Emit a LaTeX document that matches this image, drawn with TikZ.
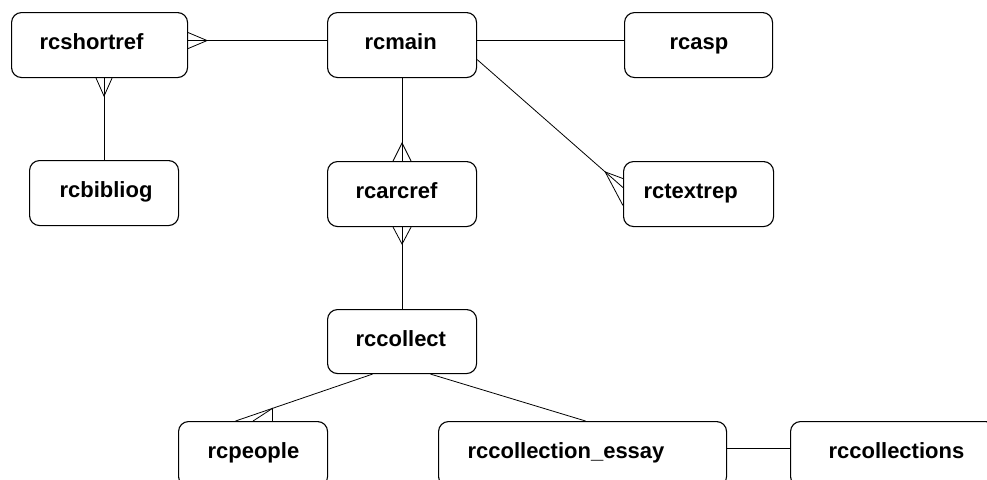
\documentclass[tikz,border=0pt]{standalone}
\usepackage{fontspec}
\setmainfont{Liberation Sans}
\usetikzlibrary{calc}
\newcommand\etxt[3]{\hbox to #1pt{\hskip #2pt\relax #3\hfil}}
\tikzset{
  entity/.style={draw, line width=1.1pt, rounded corners=10pt, anchor=north west,
    minimum height=65pt, inner xsep=0pt, inner ysep=1pt,
    text height=15pt, text depth=6pt,
    font=\fontsize{22}{26}\selectfont\bfseries},
  link/.style={line width=0.8pt},
}
\begin{document}
\begin{tikzpicture}[x=1pt,y=-1pt]
\useasboundingbox (0,0) rectangle (987,479);
\clip (0,0) rectangle (987,479);
% entities
\node[entity] (shortref) at (11,12) {\etxt{176}{28}{rcshortref}};
\node[entity] (main) at (327,12) {\etxt{149}{37}{rcmain}};
\node[entity] (asp) at (624,12) {\etxt{148}{45}{rcasp}};
\node[entity] (bibliog) at (29,160) {\etxt{149}{30}{rcbibliog}};
\node[entity] (arcref) at (327,161) {\etxt{149}{28}{rcarcref}};
\node[entity] (textrep) at (623,161) {\etxt{150}{20}{rctextrep}};
\node[entity, minimum height=64pt] (collect) at (327,309) {\etxt{149}{28}{rccollect}};
\node[entity] (people) at (178,421) {\etxt{149}{29}{rcpeople}};
\node[entity] (essay) at (438,421) {\etxt{288}{29}{rccollection\_essay}};
\node[entity] (collections) at (790,421) {\etxt{205}{38}{rccollections}};
% shortref - main
\draw[link] ([yshift=4.5pt]shortref.east) -- ([yshift=4.5pt]main.west);
\draw[link] ([yshift=12.5pt]shortref.east) -- ([xshift=19pt,yshift=4.5pt]shortref.east) -- ([yshift=-3.5pt]shortref.east);
% shortref - bibliog
\coordinate (sb) at (bibliog.north |- shortref.south);
\draw[link] (sb) -- (bibliog.north);
\draw[link] ([xshift=-8pt]sb) -- ([yshift=-18pt]sb) -- ([xshift=8pt]sb);
% main - asp
\draw[link] ([yshift=4.5pt]main.east) -- ([yshift=4.5pt]asp.west);
% main - arcref
\draw[link] (main.south) -- (arcref.north);
\draw[link] ([xshift=-9pt]arcref.north) -- ([yshift=18pt]arcref.north) -- ([xshift=9pt]arcref.north);
% arcref - collect
\draw[link] (arcref.south) -- (collect.north);
\draw[link] ([xshift=-9pt]arcref.south) -- ([yshift=-17pt]arcref.south) -- ([xshift=9pt]arcref.south);
% main - textrep
\coordinate (mt1) at ([yshift=-14.5pt]main.east);
\coordinate (mt2) at ([yshift=6.5pt]textrep.west);
\draw[link] (mt1) -- (mt2);
\coordinate (mtip) at ($(mt1)!0.878!(mt2)$);
\draw[link] ([yshift=15.5pt]textrep.west) -- (mtip) -- ([yshift=-11.5pt]textrep.west);
% collect - people
\coordinate (cp1) at ([xshift=-29.5pt]collect.south);
\coordinate (cp2) at ([xshift=-17.5pt]people.north);
\draw[link] (cp1) -- (cp2);
\coordinate (ptip) at ($(cp1)!0.73!(cp2)$);
\draw[link] (people.north) -- (ptip) -- ([xshift=19.5pt]people.north);
% collect - essay
\draw[link] ([xshift=28.5pt]collect.south) -- ([xshift=3pt]essay.north);
% essay - collections
\draw[link] ([yshift=5.5pt]essay.east) -- ([yshift=5.5pt]collections.west);
\end{tikzpicture}
\end{document}
